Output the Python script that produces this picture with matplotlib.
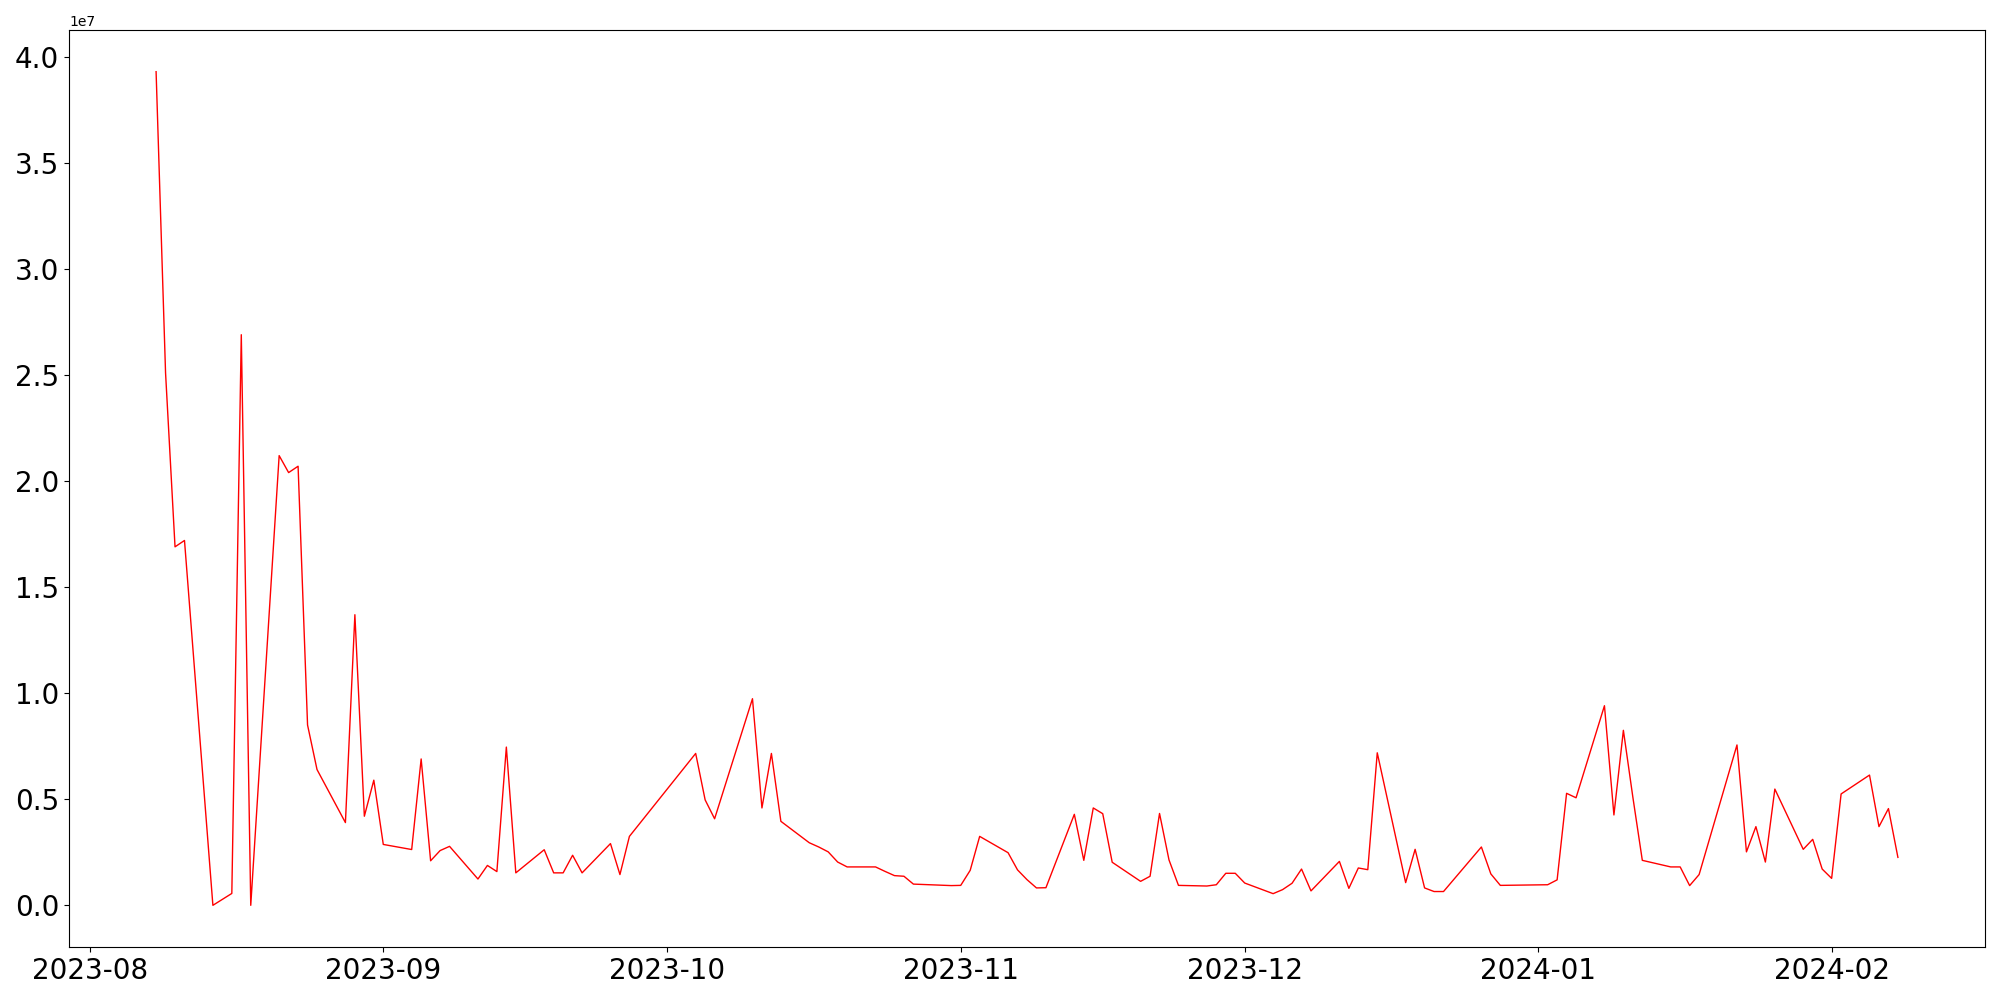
import matplotlib
matplotlib.use("Agg")
import matplotlib.pyplot as plt
import pandas as pd

# trading days
dates = [
    "2023-08-08", "2023-08-09", "2023-08-10", "2023-08-11", "2023-08-14",
    "2023-08-16", "2023-08-17", "2023-08-18", "2023-08-21", "2023-08-22",
    "2023-08-23", "2023-08-24", "2023-08-25", "2023-08-28", "2023-08-29",
    "2023-08-30", "2023-08-31", "2023-09-01", "2023-09-04", "2023-09-05",
    "2023-09-06", "2023-09-07", "2023-09-08", "2023-09-11", "2023-09-12",
    "2023-09-13", "2023-09-14", "2023-09-15", "2023-09-18", "2023-09-19",
    "2023-09-20", "2023-09-21", "2023-09-22", "2023-09-25", "2023-09-26",
    "2023-09-27", "2023-10-04", "2023-10-05", "2023-10-06", "2023-10-10",
    "2023-10-11", "2023-10-12", "2023-10-13", "2023-10-16", "2023-10-17",
    "2023-10-18", "2023-10-19", "2023-10-20", "2023-10-23", "2023-10-24",
    "2023-10-25", "2023-10-26", "2023-10-27", "2023-10-31", "2023-11-01",
    "2023-11-02", "2023-11-03", "2023-11-06", "2023-11-07", "2023-11-08",
    "2023-11-09", "2023-11-10", "2023-11-13", "2023-11-14", "2023-11-15",
    "2023-11-16", "2023-11-17", "2023-11-20", "2023-11-21", "2023-11-22",
    "2023-11-23", "2023-11-24", "2023-11-27", "2023-11-28", "2023-11-29",
    "2023-11-30", "2023-12-01", "2023-12-04", "2023-12-05", "2023-12-06",
    "2023-12-07", "2023-12-08", "2023-12-11", "2023-12-12", "2023-12-13",
    "2023-12-14", "2023-12-15", "2023-12-18", "2023-12-19", "2023-12-20",
    "2023-12-21", "2023-12-22", "2023-12-26", "2023-12-27", "2023-12-28",
    "2024-01-02", "2024-01-03", "2024-01-04", "2024-01-05", "2024-01-08",
    "2024-01-09", "2024-01-10", "2024-01-11", "2024-01-12", "2024-01-15",
    "2024-01-16", "2024-01-17", "2024-01-18", "2024-01-22", "2024-01-23",
    "2024-01-24", "2024-01-25", "2024-01-26", "2024-01-29", "2024-01-30",
    "2024-01-31", "2024-02-01", "2024-02-02", "2024-02-05", "2024-02-06",
    "2024-02-07", "2024-02-08",
]

# values in units of 1e6
values = [
    39.3, 25.1, 16.9, 17.2, 0.0,
    0.56, 26.9, 0.0, 21.2, 20.4,
    20.7, 8.5, 6.4, 3.9, 13.7,
    4.2, 5.9, 2.87, 2.63, 6.9,
    2.1, 2.58, 2.78, 1.24, 1.88,
    1.59, 7.46, 1.53, 2.62, 1.53,
    1.53, 2.36, 1.53, 2.91, 1.45,
    3.25, 7.16, 4.97, 4.08, 9.74,
    4.59, 7.16, 3.96, 2.95, 2.75,
    2.52, 2.04, 1.81, 1.81, 1.6,
    1.4, 1.37, 1.0, 0.93, 0.94,
    1.65, 3.25, 2.48, 1.67, 1.21,
    0.82, 0.83, 4.29, 2.12, 4.59,
    4.32, 2.03, 1.13, 1.37, 4.33,
    2.14, 0.94, 0.91, 0.97, 1.51,
    1.51, 1.05, 0.55, 0.74, 1.04,
    1.71, 0.68, 2.07, 0.8, 1.76,
    1.68, 7.19, 1.07, 2.64, 0.82,
    0.65, 0.65, 2.75, 1.48, 0.94,
    0.97, 1.2, 5.28, 5.07, 9.41,
    4.26, 8.25, 5.1, 2.12, 1.81,
    1.81, 0.93, 1.45, 7.56, 2.52,
    3.71, 2.04, 5.48, 2.64, 3.11,
    1.71, 1.27, 5.25, 6.14, 3.71,
    4.56, 2.26,
]

x = pd.to_datetime(dates)
y = [v * 1e6 for v in values]

fig = plt.figure(figsize=(20, 10), dpi=100)
ax = fig.add_axes([0.0345, 0.053, 0.958, 0.917])
ax.plot(x, y, color="red", linewidth=1.0)
ax.tick_params(axis="both", labelsize=20)

fig.savefig("out.png")
